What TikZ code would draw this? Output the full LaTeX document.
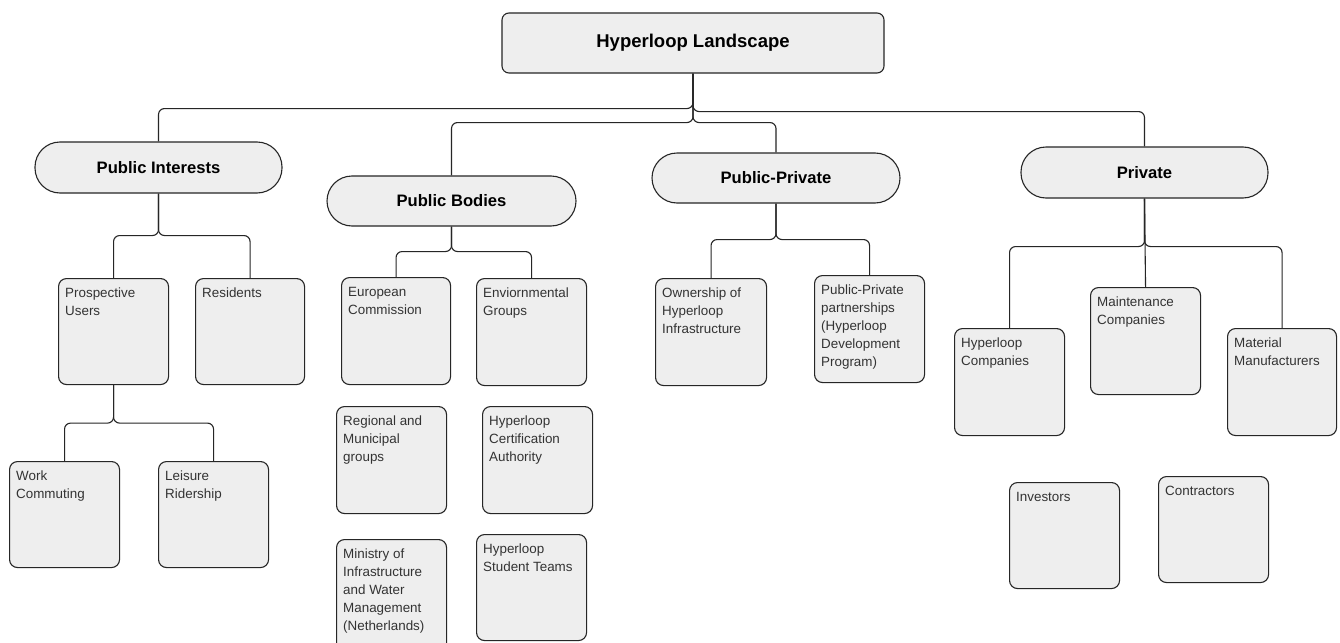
\documentclass[tikz,border=0pt]{standalone}
\usepackage{fontspec}
\setmainfont{Liberation Sans}
\usetikzlibrary{backgrounds}
\definecolor{boxfill}{HTML}{EEEEEE}
\definecolor{edge}{HTML}{262626}
\definecolor{txt}{HTML}{333333}
\tikzset{
  leaf/.style={draw=edge, fill=boxfill, line width=1.1pt, rounded corners=8pt, inner sep=0pt},
  leaftext/.style={font=\fontsize{13.4}{18}\selectfont, align=left, inner sep=0pt, text=txt},
  pill/.style={draw=edge, fill=boxfill, line width=1.1pt, rounded corners=25pt, inner sep=0pt,
    font=\bfseries\fontsize{16.6}{19}\selectfont, text=black},
  rootbox/.style={draw=edge, fill=boxfill, line width=1.1pt, rounded corners=7pt, inner sep=0pt,
    font=\bfseries\fontsize{18.5}{21}\selectfont, text=black},
  link/.style={draw=edge, line width=1.1pt, rounded corners=6pt}
}
\newcommand{\leafbox}[6]{%
  \node[leaf, anchor=north west, minimum width={#4-#2}, minimum height={#5-#3}] (#1) at (#2,#3) {};
  \node[leaftext, anchor=north west] (#1t) at ([xshift=7pt,yshift=-10pt]#1.north west) {#6};
}
\newcommand{\pillbox}[6]{%
  \node[pill, minimum width={#4-#2}, minimum height={#5-#3}] (#1) at ({(#2+#4)/2},{(#3+#5)/2}) {#6};
}
\begin{document}
\begin{tikzpicture}[x=1pt,y=-1pt]
\useasboundingbox (0,0) rectangle (1340,642);
\clip (0,0) rectangle (1340,642);

% root
\node[rootbox, minimum width=382, minimum height=60] (root) at (693,43) {Hyperloop Landscape};

% level 1
\pillbox{pi}{35}{142}{282}{193}{Public Interests}
\pillbox{pb}{327}{176}{576}{226}{Public Bodies}
\pillbox{pp}{652}{153}{900}{203}{Public-Private}
\pillbox{prv}{1021}{147}{1268}{198}{Private}

% leaves
\leafbox{pu}{58}{278}{168}{384}{Prospective\\Users}
\leafbox{res}{195}{278}{304}{384}{Residents}
\leafbox{wc}{9}{461}{119}{567}{Work\\Commuting}
\leafbox{lr}{158}{461}{268}{567}{Leisure\\Ridership}

\leafbox{ec}{341}{277}{450}{384}{European\\Commission}
\leafbox{eg}{476}{278}{586}{385}{Enviornmental\\Groups}
\leafbox{rm}{336}{406}{446}{513}{Regional and\\Municipal\\groups}
\leafbox{hca}{482}{406}{592}{513}{Hyperloop\\Certification\\Authority}
\leafbox{min}{336}{539}{446}{660}{Ministry of\\Infrastructure\\and Water\\Management\\(Netherlands)}
\leafbox{hst}{476}{534}{586}{640}{Hyperloop\\Student Teams}

\leafbox{own}{655}{278}{766}{385}{Ownership of\\Hyperloop\\Infrastructure}
\leafbox{ppp}{814}{275}{924}{382}{Public-Private\\partnerships\\(Hyperloop\\Development\\Program)}

\leafbox{hc}{954}{328}{1064}{435}{Hyperloop\\Companies}
\leafbox{mc}{1090}{287}{1200}{394}{Maintenance\\Companies}
\leafbox{mm}{1227}{328}{1336}{435}{Material\\Manufacturers}
\leafbox{inv}{1009}{482}{1119}{588}{Investors}
\leafbox{con}{1158}{476}{1268}{582}{Contractors}

\begin{scope}[on background layer]
\fill[white] (0,0) rectangle (1340,642);
% connectors from root
\path[link] (root.south) -- ([yshift=-35pt]root.south) -| (pi.north);
\path[link] (root.south) -- ([yshift=-38pt]root.south) -| (prv.north);
\path[link] (root.south) -- ([yshift=-49pt]root.south) -| (pb.north);
\path[link] (root.south) -- ([yshift=-49pt]root.south) -| (pp.north);

% public interests
\path[link] (pi.south) -- ([yshift=-42pt]pi.south) -| (pu.north);
\path[link] (pi.south) -- ([yshift=-42pt]pi.south) -| (res.north);
\path[link] (pu.south) -- ([yshift=-38pt]pu.south) -| (wc.north);
\path[link] (pu.south) -- ([yshift=-38pt]pu.south) -| (lr.north);

% public bodies
\path[link] (pb.south) -- ([yshift=-25pt]pb.south) -| (ec.north);
\path[link] (pb.south) -- ([yshift=-25pt]pb.south) -| (eg.north);

% public-private
\path[link] (pp.south) -- ([yshift=-36pt]pp.south) -| (own.north);
\path[link] (pp.south) -- ([yshift=-36pt]pp.south) -| (ppp.north);

% private
\path[link] (prv.south) -- ([yshift=-48pt]prv.south) -| (hc.north);
\path[link] (prv.south) -- ([yshift=-48pt]prv.south) -| (mm.north);
\path[link] (prv.south) -- (mc.north);
\end{scope}
\end{tikzpicture}
\end{document}
